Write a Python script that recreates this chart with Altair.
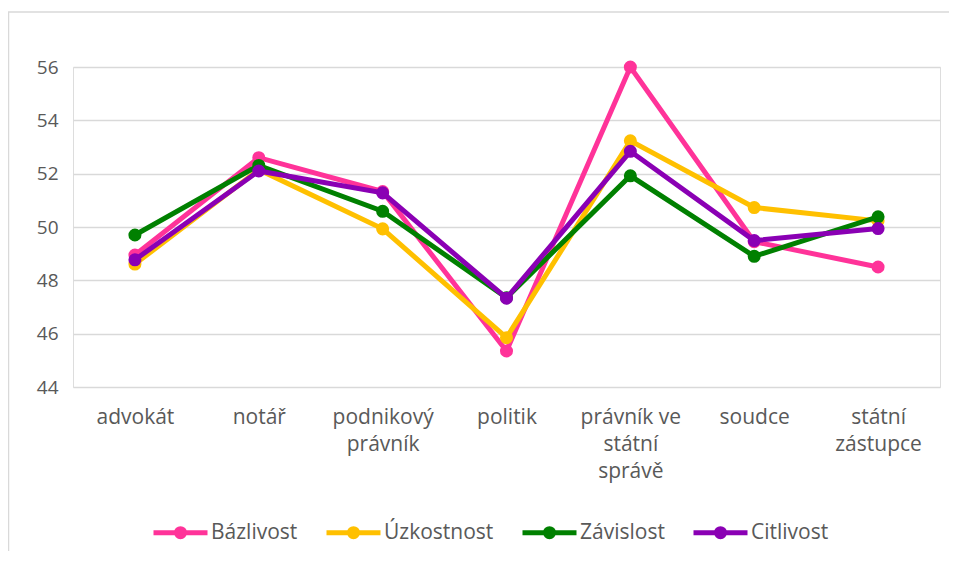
import altair as alt
import pandas as pd

categories = ["advokát", "notář", "podnikový právník", "politik",
              "právník ve státní správě", "soudce", "státní zástupce"]
label_lines = {
    "podnikový právník": ["podnikový", "právník"],
    "právník ve státní správě": ["právník ve", "státní", "správě"],
    "státní zástupce": ["státní", "zástupce"],
}
series_names = ["Bázlivost", "Úzkostnost", "Závislost", "Citlivost"]
series_colors = ["#FF3399", "#FFC000", "#008000", "#8A00B4"]

bazlivost = [48.95, 52.60, 51.33, 45.35, 56.00, 49.45, 48.50]
uzkostnost = [48.61, 52.15, 49.93, 45.85, 53.23, 50.73, 50.23]
zavislost = [49.70, 52.31, 50.59, 47.35, 51.92, 48.90, 50.38]
citlivost = [48.77, 52.10, 51.28, 47.33, 52.84, 49.49, 49.94]

y_ticks = [44, 46, 48, 50, 52, 54, 56]

rows = []
for si, (name, vals) in enumerate(zip(series_names, [bazlivost, uzkostnost, zavislost, citlivost])):
    for c, v in zip(categories, vals):
        rows.append({"kategorie": c, "skupina": name, "hodnota": v, "poradi": si})
df = pd.DataFrame(rows)

parts = []
for k, lines in label_lines.items():
    arr = "[" + ",".join("'" + l + "'" for l in lines) + "]"
    parts.append(f"datum.label == '{k}' ? {arr}")
label_expr = " : ".join(parts) + " : datum.label"

FONT = "Open Sans"
GREY = "#595959"

x_enc = alt.X("kategorie:N", sort=categories, title=None,
              scale=alt.Scale(type="point", padding=0.5),
              axis=alt.Axis(labelAngle=0, labelExpr=label_expr, ticks=False, domain=False,
                            labelPadding=19, labelLineHeight=27, labelBaseline="top",
                            labelFontSize=21, labelColor=GREY, labelFont=FONT, grid=False))
y_enc = alt.Y("hodnota:Q", title=None,
              scale=alt.Scale(domain=[44, 56], nice=False, zero=False),
              axis=alt.Axis(values=y_ticks, ticks=False, domain=False, labelPadding=15,
                            labelFontSize=19, labelColor=GREY, labelFont=FONT,
                            gridColor="#D9D9D9", gridWidth=1.5))
color_scale = alt.Scale(domain=series_names, range=series_colors)

legend = alt.Legend(
    title=None, orient="none", direction="horizontal",
    legendX=78, legendY=436,
    symbolType="M-1,0 L1,0 M-0.15,0 A0.15,0.15 0 1,1 0.15,0 A0.15,0.15 0 1,1 -0.15,0",
    symbolSize=2916, symbolStrokeWidth=5, symbolOpacity=1,
    labelFontSize=21, labelColor=GREY, labelFont=FONT,
    labelOffset=1, columnPadding=18)

color_enc = alt.Color("skupina:N", scale=color_scale, legend=legend)

layers = []
for si, name in enumerate(series_names):
    base = alt.Chart(df[df["skupina"] == name])
    layers.append(base.mark_line(strokeWidth=5).encode(x=x_enc, y=y_enc, color=color_enc))
    layers.append(base.mark_circle(size=170, opacity=1).encode(x=x_enc, y=y_enc, color=color_enc))

# outer chart frame (decoration)
frame = alt.Chart(pd.DataFrame({"k": [0]})).mark_rect(
    fill="transparent", stroke="#D9D9D9", strokeWidth=1.5
).encode(x=alt.value(-64.5), x2=alt.value(900), y=alt.value(-55), y2=alt.value(600))

chart = alt.layer(frame, *layers).properties(
    width=867, height=320,
    autosize=alt.AutoSizeParams(type="none"),
    padding={"left": 65, "top": 59, "right": 9, "bottom": 164},
).configure_view(stroke="transparent", strokeWidth=0).configure(font=FONT)

chart.save("out.html", embed_options={"renderer": "svg", "actions": False})
